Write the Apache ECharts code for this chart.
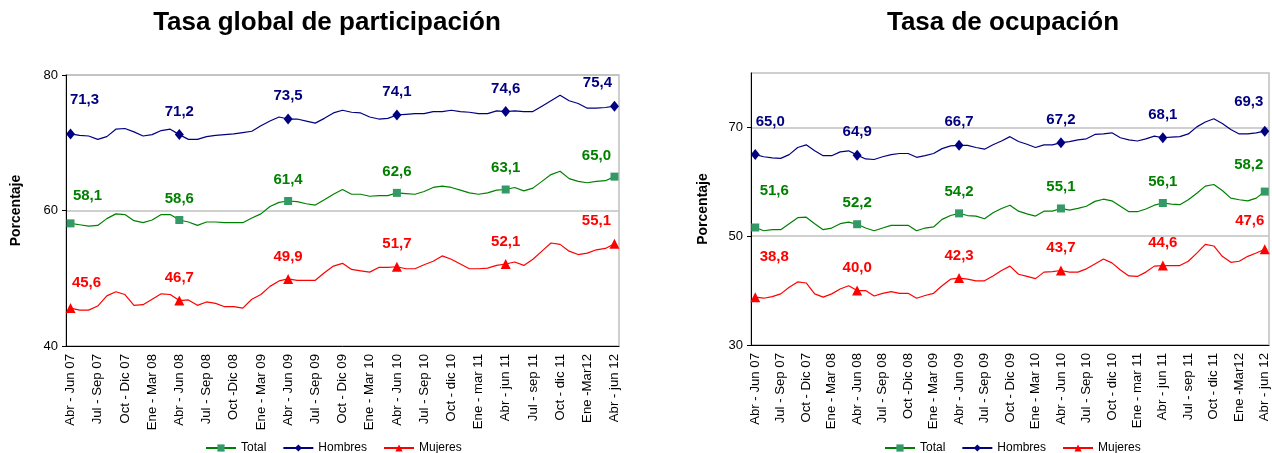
<!DOCTYPE html>
<html>
<head>
<meta charset="utf-8">
<script src="https://cdn.jsdelivr.net/npm/echarts@6/dist/echarts.min.js"></script>
<style>
  html, body { margin: 0; padding: 0; background: #fff; }
  #main { width: 1272px; height: 453px; }
</style>
</head>
<body>
<div id="main"></div>
<script>
// etiquetas trimestrales (una cada 3 meses moviles)
const tickLabels = ['Abr - Jun 07', 'Jul - Sep 07', 'Oct - Dic 07', 'Ene - Mar 08', 'Abr - Jun 08', 'Jul - Sep 08',
  'Oct -Dic 08', 'Ene - Mar 09', 'Abr - Jun 09', 'Jul - Sep 09', 'Oct - Dic 09', 'Ene - Mar 10', 'Abr - Jun 10',
  'Jul - Sep 10', 'Oct - dic 10', 'Ene - mar 11', 'Abr - jun 11', 'Jul - sep 11', 'Oct - dic 11', 'Ene -Mar12', 'Abr - jun 12']

// Tasa global de participacion
const totalTGP = [58.1, 57.9, 57.7, 57.8, 58.8, 59.5, 59.4, 58.5, 58.2, 58.6, 59.4, 59.4, 58.6, 58.3, 57.8, 58.3,
  58.3, 58.2, 58.2, 58.2, 58.9, 59.5, 60.6, 61.2, 61.4, 61.3, 61.0, 60.8, 61.6, 62.4, 63.1, 62.4, 62.4, 62.1, 62.2,
  62.2, 62.6, 62.5, 62.4, 62.8, 63.4, 63.6, 63.4, 63.0, 62.6, 62.4, 62.6, 63.0, 63.1, 63.4, 62.9, 63.3, 64.3, 65.3,
  65.8, 64.7, 64.3, 64.1, 64.3, 64.4, 65.0]
const hombresTGP = [71.3, 71.1, 71.0, 70.5, 70.9, 72.0, 72.1, 71.6, 71.0, 71.2, 71.8, 72.0, 71.2, 70.5, 70.5, 70.9,
  71.1, 71.2, 71.3, 71.5, 71.7, 72.5, 73.2, 73.8, 73.5, 73.5, 73.2, 72.9, 73.6, 74.4, 74.8, 74.5, 74.4, 73.8, 73.5,
  73.6, 74.1, 74.2, 74.3, 74.3, 74.6, 74.6, 74.8, 74.6, 74.5, 74.3, 74.3, 74.7, 74.6, 74.7, 74.6, 74.6, 75.4, 76.2,
  77.0, 76.2, 75.8, 75.1, 75.1, 75.2, 75.4]
const mujeresTGP = [45.6, 45.3, 45.3, 45.9, 47.4, 48.0, 47.6, 46.0, 46.1, 46.9, 47.7, 47.6, 46.7, 46.8, 46.0, 46.5,
  46.3, 45.8, 45.8, 45.6, 46.9, 47.6, 48.8, 49.6, 49.9, 49.7, 49.7, 49.7, 50.8, 51.8, 52.2, 51.3, 51.1, 50.9, 51.6,
  51.6, 51.7, 51.4, 51.4, 52.0, 52.5, 53.3, 52.8, 52.1, 51.4, 51.4, 51.5, 51.9, 52.1, 52.4, 51.9, 52.8, 54.0, 55.2,
  55.0, 54.0, 53.5, 53.7, 54.2, 54.4, 55.1]

// Tasa de ocupacion
const totalTO = [51.6, 51.0, 51.2, 51.2, 52.3, 53.4, 53.5, 52.3, 51.2, 51.5, 52.3, 52.6, 52.2, 51.5, 51.0, 51.5,
  52.0, 52.0, 52.0, 51.0, 51.5, 51.7, 53.1, 53.8, 54.2, 53.8, 53.7, 53.2, 54.3, 55.1, 55.7, 54.6, 54.1, 53.7, 54.6,
  54.6, 55.1, 54.8, 55.1, 55.5, 56.4, 56.8, 56.5, 55.5, 54.5, 54.5, 55.0, 55.7, 56.1, 55.9, 55.8, 56.7, 57.9, 59.2,
  59.5, 58.4, 57.0, 56.7, 56.5, 57.0, 58.2]
const hombresTO = [65.0, 64.6, 64.4, 64.3, 65.0, 66.3, 66.8, 65.7, 64.8, 64.8, 65.5, 65.7, 64.9, 64.2, 64.1, 64.6,
  65.0, 65.2, 65.2, 64.5, 64.8, 65.2, 66.1, 66.6, 66.7, 66.7, 66.3, 66.0, 66.8, 67.5, 68.3, 67.4, 66.9, 66.3, 66.8,
  66.8, 67.2, 67.4, 67.7, 67.9, 68.7, 68.8, 69.0, 68.1, 67.7, 67.5, 67.9, 68.4, 68.1, 68.2, 68.3, 68.8, 70.1, 71.0,
  71.6, 70.7, 69.6, 68.8, 68.8, 69.0, 69.3]
const mujeresTO = [38.8, 38.6, 38.9, 39.4, 40.6, 41.6, 41.4, 39.4, 38.8, 39.4, 40.3, 40.9, 40.0, 40.0, 39.0, 39.5,
  39.8, 39.5, 39.5, 38.6, 39.1, 39.5, 40.9, 42.1, 42.3, 42.1, 41.8, 41.8, 42.7, 43.7, 44.5, 43.0, 42.6, 42.2, 43.4,
  43.5, 43.7, 43.4, 43.4, 44.0, 44.9, 45.8, 45.1, 43.8, 42.7, 42.6, 43.4, 44.5, 44.6, 44.6, 44.6, 45.4, 46.9, 48.5,
  48.2, 46.3, 45.2, 45.4, 46.3, 46.9, 47.6]

// 61 trimestres moviles; solo uno de cada tres lleva nombre visible
const categories = []
for (let i = 0; i < tickLabels.length * 3 - 2; i++) {
  categories.push(i % 3 === 0 ? tickLabels[i / 3] : 'm' + i)
}

const fmt = p => p.value.toFixed(1).replace('.', ',')

// marcador y etiqueta solo cada 12 meses; offsets de la primera y ultima etiqueta
const buildData = (values, first, last) => values.map((v, i) => {
  if (i % 12 !== 0) return { value: v, symbol: 'none' }
  let offset = [0, 0]
  if (i === 0) offset = first
  if (i === values.length - 1) offset = last
  return { value: v, label: { show: true, offset: offset } }
})

const makeSeries = (name, values, idx, color, markColor, symbol, size, first, last) => ({
  name: name,
  type: 'line',
  xAxisIndex: idx,
  yAxisIndex: idx,
  data: buildData(values, first, last),
  symbol: symbol,
  symbolSize: size,
  showAllSymbol: true,
  lineStyle: { color: color, width: 1.2 },
  itemStyle: { color: markColor },
  label: { show: false, position: 'top', distance: 10, color: color, fontWeight: 'bold', fontSize: 15,
    fontFamily: 'Liberation Sans, Arial', formatter: fmt },
  emphasis: { disabled: true },
  animation: false
})

const xAxisBase = gi => ({
  type: 'category',
  gridIndex: gi,
  data: categories,
  boundaryGap: true,
  axisLine: { lineStyle: { color: '#000', width: 1 } },
  axisTick: { interval: 0, length: 4, lineStyle: { color: '#000' } },
  axisLabel: {
    interval: 2, rotate: 90, margin: 8, fontSize: 13.2, color: '#000', fontFamily: 'Liberation Sans, Arial'
  },
  splitLine: { show: false }
})

const grayLine = { show: true, lineStyle: { color: '#c0c0c0', width: 1.5 } }

const chart = echarts.init(document.getElementById('main'))
chart.setOption({
  backgroundColor: '#fff',
  textStyle: { fontFamily: 'Liberation Sans, Arial' },
  title: [
    { text: 'Tasa global de participación', left: 322, top: 5, textAlign: 'center',
      textStyle: { fontSize: 26, fontWeight: 'bold', color: '#000' } },
    { text: 'Tasa de ocupación', left: 998, top: 5, textAlign: 'center',
      textStyle: { fontSize: 26, fontWeight: 'bold', color: '#000' } }
  ],
  legend: [
    { left: 200, top: 437, itemWidth: 30, itemHeight: 9, itemGap: 16, data: ['Total', 'Hombres', 'Mujeres'],
      textStyle: { fontSize: 12, color: '#000' } },
    { left: 879, top: 437, itemWidth: 30, itemHeight: 9, itemGap: 16, data: ['Total', 'Hombres', 'Mujeres'],
      textStyle: { fontSize: 12, color: '#000' } }
  ],
  grid: [
    { left: 66, right: 653, top: 75, bottom: 107, show: true, borderColor: '#c0c0c0', borderWidth: 1.5 },
    { left: 751, right: 3, top: 73, bottom: 108, show: true, borderColor: '#c0c0c0', borderWidth: 1.5 }
  ],
  xAxis: [xAxisBase(0), xAxisBase(1)],
  yAxis: [
    { type: 'value', gridIndex: 0, min: 40, max: 80, interval: 20,
      name: 'Porcentaje', nameLocation: 'middle', nameGap: 43,
      nameTextStyle: { fontWeight: 'bold', fontSize: 14, color: '#000' },
      axisLine: { show: true, lineStyle: { color: '#000' } },
      axisTick: { show: true, length: 4, lineStyle: { color: '#000' } },
      axisLabel: { fontSize: 13, color: '#000', margin: 8 },
      splitLine: grayLine },
    { type: 'value', gridIndex: 1, min: 30, max: 80, interval: 10,
      name: 'Porcentaje', nameLocation: 'middle', nameGap: 41,
      nameTextStyle: { fontWeight: 'bold', fontSize: 14, color: '#000' },
      axisLine: { show: true, lineStyle: { color: '#000' } },
      axisTick: { show: true, length: 4, customValues: [30, 50, 70], lineStyle: { color: '#000' } },
      axisLabel: { fontSize: 13, color: '#000', margin: 8, customValues: [30, 50, 70] },
      splitLine: grayLine }
  ],
  series: [
    makeSeries('Total', totalTGP, 0, '#008000', '#339966', 'rect', 8, [17, -6], [-18, 1]),
    makeSeries('Hombres', hombresTGP, 0, '#000080', '#000080', 'diamond', [9, 11], [14, -11], [-17, 0]),
    makeSeries('Mujeres', mujeresTGP, 0, '#ff0000', '#ff0000', 'triangle', 10, [16, -3], [-18, 0]),
    makeSeries('Total', totalTO, 1, '#008000', '#339966', 'rect', 8, [19, -15], [-16, -5]),
    makeSeries('Hombres', hombresTO, 1, '#000080', '#000080', 'diamond', [9, 11], [15, -10], [-16, -6]),
    makeSeries('Mujeres', mujeresTO, 1, '#ff0000', '#ff0000', 'triangle', 10, [19, -18], [-15, -6])
  ]
})
</script>
</body>
</html>
